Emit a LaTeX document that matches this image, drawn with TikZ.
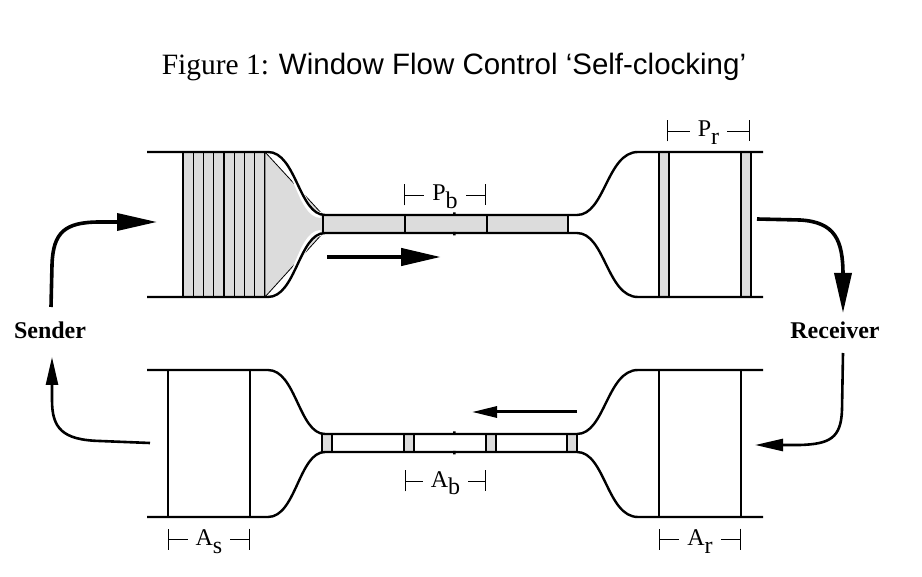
\documentclass[tikz,border=0pt]{standalone}
\usepackage{fontspec}
\setmainfont{Liberation Serif}
\newfontfamily\hvfont{Liberation Sans}
\usetikzlibrary{arrows.meta}
\definecolor{pkt}{HTML}{DCDCDC}
\newcommand\chan[4]{%
  \draw[wall] (147,#1) -- (268,#1) .. controls (296,#1) and (299,#3) .. (325,#3) -- (577,#3)
     .. controls (605,#3) and (607,#1) .. (638,#1) -- (763,#1);
  \draw[wall] (147,#2) -- (268,#2) .. controls (296,#2) and (299,#4) .. (325,#4) -- (577,#4)
     .. controls (605,#4) and (607,#2) .. (638,#2) -- (763,#2);
}
\newcommand\sublab[2]{#1\raisebox{-8pt}{#2}}
\begin{document}
\begin{tikzpicture}[x=1pt,y=-1pt,line join=round,
  wall/.style={line width=2.4pt},
  pktbox/.style={fill=pkt,draw,line width=1.3pt},
  sep/.style={line width=1.8pt},
  dimline/.style={line width=0.9pt,{Bar[width=21pt,line width=0.9pt]}-{Bar[width=21pt,line width=0.9pt]}},
  dimlab/.style={fill=white,inner xsep=8pt,inner ysep=1pt,anchor=base,yshift=-6pt,
     font=\fontsize{24}{26}\selectfont},
  bigarrow/.style={line width=3.6pt,-{Triangle[length=40pt,width=17pt]}},
  smallarrow/.style={line width=2.6pt,-{Triangle[length=28pt,width=12pt]}},
  endlabel/.style={font=\bfseries\fontsize{24}{26}\selectfont}
]
\useasboundingbox (0,0) rectangle (922,577);

% title
\node[anchor=base,font=\fontsize{29.5}{34}\selectfont] (title) at (454,75)
  {Figure 1: {\hvfont Window Flow Control ‘Self-clocking’}};

% ---------- top channel (data packets) ----------
\foreach \i in {0,...,7}
  \draw[pktbox] ({183+10.25*\i},152) rectangle ++(10.25,145);
\draw[fill=pkt,line width=0.8pt] (265,152) -- (323,215) -- (323,233) -- (265,297) -- cycle;
\draw[pktbox] (323,215) rectangle (568,233);
\draw[line width=1.3pt] (405,215) -- (405,233) (487,215) -- (487,233);
\draw[pktbox] (659,152) rectangle (669,297);
\draw[pktbox] (741,152) rectangle (751,297);
% white gap between the funnel and the walls
\draw[white,line width=6pt] (270,152.5) .. controls (296,152) and (299,215) .. (321,215);
\draw[white,line width=6pt] (270,296.5) .. controls (296,297) and (299,233) .. (321,233);
\chan{152}{297}{215}{233}
\fill (453,212.5) rectangle (455.5,216) (453,232) rectangle (455.5,235.5);

% data flow arrow
\coordinate (da1) at (327,257);
\coordinate (da2) at (441,257);
\draw[line width=4.4pt,-{Triangle[length=40pt,width=17pt]}] (da1) -- (da2);

% ---------- bottom channel (acks) ----------
\draw[sep] (168,370) -- (168,517) (250,370) -- (250,517);
\draw[sep] (659,370) -- (659,517) (741,370) -- (741,517);
\draw[line width=1.5pt,fill=white] (322,434) rectangle (577,452);
\foreach \x in {322,404,486,567}
  \draw[pktbox] (\x,434) rectangle ++(10,18);
\chan{370}{517}{434}{452}
\fill (453,431.5) rectangle (455.5,435) (453,451) rectangle (455.5,454.5);

\coordinate (aa1) at (577,412);
\coordinate (aa2) at (472,412);
\draw[line width=3pt,-{Triangle[length=25pt,width=11pt]}] (aa1) -- (aa2);

% ---------- dimension labels ----------
\coordinate (pbL) at (404,195); \coordinate (pbR) at (486,195);
\draw[dimline] (pbL) -- node[dimlab] (pb) {\sublab{P}{b}} (pbR);
\coordinate (prL) at (667,131); \coordinate (prR) at (750,131);
\draw[dimline] (prL) -- node[dimlab] (pr) {\sublab{P}{r}} (prR);
\coordinate (abL) at (405,481); \coordinate (abR) at (486,481);
\draw[dimline] (abL) -- node[dimlab] (ab) {\sublab{A}{b}} (abR);
\coordinate (asL) at (168,539); \coordinate (asR) at (250,539);
\draw[dimline] (asL) -- node[dimlab] (as) {\sublab{A}{s}} (asR);
\coordinate (arL) at (659,539); \coordinate (arR) at (741,539);
\draw[dimline] (arL) -- node[dimlab] (ar) {\sublab{A}{r}} (arR);

% ---------- sender / receiver ----------
\node[endlabel] (sender) at (50,330) {Sender};
\node[endlabel] (receiver) at (835,330) {Receiver};

\coordinate (s1) at (51,307);
\coordinate (s2) at (157,222);
\draw[bigarrow] (s1) -- (52,265) .. controls (53,232) and (65,222) .. (100,222) -- (s2);

\coordinate (s3) at (150,443);
\coordinate (s4) at (52,357);
\draw[smallarrow] (s3) -- (100,441) .. controls (62,440) and (52,428) .. (52,400) -- (s4);

\coordinate (r1) at (757,219);
\coordinate (r2) at (843,313);
\draw[bigarrow] (r1) -- (800,220) .. controls (835,222) and (843,240) .. (843,275) -- (r2);

\coordinate (r3) at (843,353);
\coordinate (r4) at (755,445);
\draw[smallarrow] (r3) -- (842,410) .. controls (841,438) and (830,444) .. (800,445) -- (r4);
\end{tikzpicture}
\end{document}
